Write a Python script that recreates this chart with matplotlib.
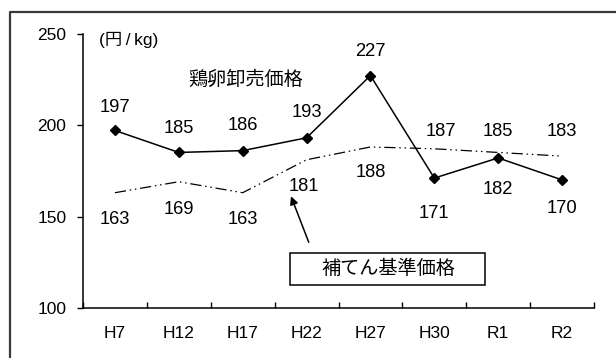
import matplotlib
matplotlib.use('Agg')
import matplotlib.pyplot as plt
from matplotlib.lines import Line2D
from matplotlib.patches import Rectangle

plt.rcParams['font.family'] = ['Liberation Sans', 'Noto Sans CJK JP']

# データ
years = ['H7', 'H12', 'H17', 'H22', 'H27', 'H30', 'R1', 'R2']
wholesale = [197, 185, 186, 193, 227, 171, 182, 170]   # 鶏卵卸売価格
base_price = [163, 169, 163, 181, 188, 187, 185, 183]  # 補てん基準価格

# ラベル位置 (pixel offset)
wholesale_off = [(0, 23), (0, 24), (0, 25), (0, 25), (0, 24), (0, -35), (0, -32), (0, -29)]
base_off = [(0, -27), (0, -28), (0, -27), (-3, -27), (0, -26), (7, 17), (0, 21), (0, 25)]

W, H = 616, 358
fig = plt.figure(figsize=(W / 100, H / 100), dpi=100)

# 外枠（上と左のみ見える）
fig.add_artist(Line2D([9.5 / W, 9.5 / W, 1.0], [0, 1 - 11.5 / H, 1 - 11.5 / H],
                      transform=fig.transFigure, color='#3a3a3a', lw=1.6))

ax = fig.add_axes([83 / W, (H - 308) / H, 511 / W, (308 - 33.5) / H])
x = list(range(len(years)))

ax.plot(x, wholesale, color='black', lw=1.1, marker='D', markersize=5.5)
ax.plot(x, base_price, color='black', lw=0.9, linestyle=(0, (9, 3, 1.2, 3, 1.2, 3)))

for i, v in enumerate(wholesale):
    ax.annotate(str(v), (i, v), xytext=wholesale_off[i], textcoords='offset pixels',
                ha='center', va='center', fontsize=13.2)
for i, v in enumerate(base_price):
    ax.annotate(str(v), (i, v), xytext=base_off[i], textcoords='offset pixels',
                ha='center', va='center', fontsize=13.2)

ax.set_xlim(-0.5, len(years) - 0.5)
ax.set_ylim(100, 250)
ax.set_yticks([100, 150, 200, 250])
ax.tick_params(axis='y', direction='out', length=4, width=1, labelsize=12.5, pad=8)
ax.set_xticks([i - 0.5 for i in range(len(years) + 1)])
ax.set_xticklabels([])
ax.set_xticks(x, minor=True)
ax.set_xticklabels(years, minor=True)
ax.tick_params(axis='x', which='major', direction='in', length=4, width=1)
ax.tick_params(axis='x', which='minor', length=0, labelsize=12.5, pad=13)

for s in ['top', 'right']:
    ax.spines[s].set_visible(False)
for s in ['left', 'bottom']:
    ax.spines[s].set_linewidth(1.1)

ax.text(-0.25, 246.4, '(円\u2009/\u2009kg)', ha='left', va='center', fontsize=12.5)
ax.text(2.04, 224.5, '鶏卵卸売価格', ha='center', va='center', fontsize=13.8)

# 補てん基準価格 の注記
ax.annotate('', xy=(2.74, 162.5), xytext=(3.05, 134.5),
            arrowprops=dict(arrowstyle='-|>', color='black', lw=1.1, mutation_scale=12))
ax.add_patch(Rectangle((2.74, 112.6), 3.05, 17.45, fc='white', ec='black', lw=1.1, zorder=3))
ax.text(4.28, 121.3, '補てん基準価格', ha='center', va='center', fontsize=13.8, zorder=4)

fig.savefig('out.png', dpi=100)
